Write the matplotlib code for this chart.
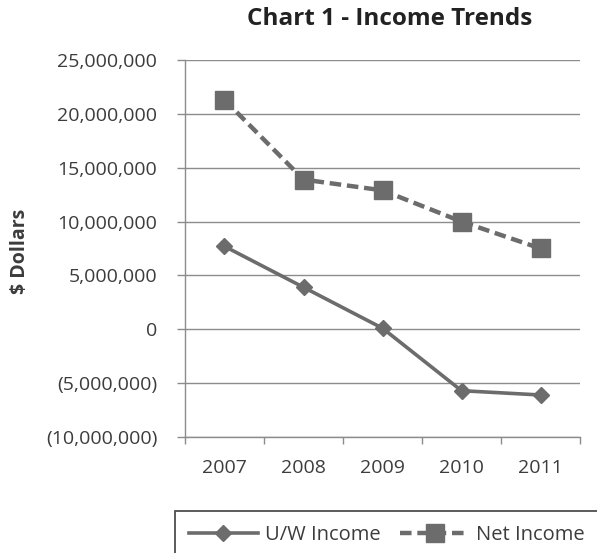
import matplotlib
matplotlib.use('Agg')
import matplotlib.pyplot as plt
from matplotlib.ticker import FuncFormatter, FixedLocator

years = ['2007', '2008', '2009', '2010', '2011']
uw_income = [7_700_000, 3_900_000, 100_000, -5_700_000, -6_100_000]
net_income = [21_300_000, 13_900_000, 12_900_000, 10_000_000, 7_500_000]
y_ticks = [-10_000_000, -5_000_000, 0, 5_000_000, 10_000_000, 15_000_000, 20_000_000, 25_000_000]

plt.rcParams['font.family'] = ['Open Sans', 'DejaVu Sans']

LINE_COLOR = '#6c6c6c'
TEXT_COLOR = '#3c3c3c'
AXIS_COLOR = '#8c8c8c'


def money(v, pos=None):
    # negativos entre paréntesis, estilo contable
    if v < 0:
        return f'({abs(v):,.0f})'
    return f'{v:,.0f}'


fig = plt.figure(figsize=(5.97, 5.53), dpi=100)
ax = fig.add_axes([185 / 597, 1 - 437 / 553, 395 / 597, 377 / 553])

x = list(range(len(years)))
ax.plot(x, uw_income, color=LINE_COLOR, lw=2.6, marker='D', ms=8.5,
        mfc=LINE_COLOR, mec=LINE_COLOR, label='U/W Income', zorder=3)
ax.plot(x, net_income, color=LINE_COLOR, lw=3.2, ls=(0, (2.6, 1.3)), marker='s', ms=13.5,
        mfc=LINE_COLOR, mec=LINE_COLOR, label='Net Income', zorder=3)

ax.set_xlim(-0.5, len(years) - 0.5)
ax.set_ylim(y_ticks[0], y_ticks[-1])
ax.set_xticks(x)
ax.set_xticklabels(years)
ax.xaxis.set_minor_locator(FixedLocator([i - 0.5 for i in range(len(years) + 1)]))
ax.tick_params(axis='x', which='major', length=0, pad=16, labelsize=14, labelcolor=TEXT_COLOR)
ax.tick_params(axis='x', which='minor', length=5, color=AXIS_COLOR, width=1)
ax.set_yticks(y_ticks)
ax.yaxis.set_major_formatter(FuncFormatter(money))
ax.tick_params(axis='y', length=6, color=AXIS_COLOR, width=1, pad=14, labelsize=14, labelcolor=TEXT_COLOR)

ax.grid(axis='y', color=AXIS_COLOR, lw=1)
ax.set_axisbelow(True)
for s in ['top', 'right']:
    ax.spines[s].set_visible(False)
for s in ['left', 'bottom']:
    ax.spines[s].set_color(AXIS_COLOR)
    ax.spines[s].set_linewidth(1)

fig.text(390 / 597, 1 - 19 / 553, 'Chart 1 - Income Trends', fontsize=17.5, fontweight='bold',
         color='#222222', ha='center', va='center')
fig.text(20 / 597, 1 - 251 / 553, '$ Dollars', fontsize=14, fontweight='bold', color=TEXT_COLOR,
         rotation=90, ha='center', va='center')

leg = fig.legend(loc='upper left', bbox_to_anchor=(175 / 597, 1 - 511 / 553), ncol=2, frameon=True,
                 fancybox=False, edgecolor='#222222', fontsize=14.5, handlelength=3.4,
                 columnspacing=1.0, handletextpad=0.35, borderpad=0.7, borderaxespad=0)
leg.get_frame().set_linewidth(1.3)
for t in leg.get_texts():
    t.set_color(TEXT_COLOR)

fig.savefig('out.png', dpi=100)
